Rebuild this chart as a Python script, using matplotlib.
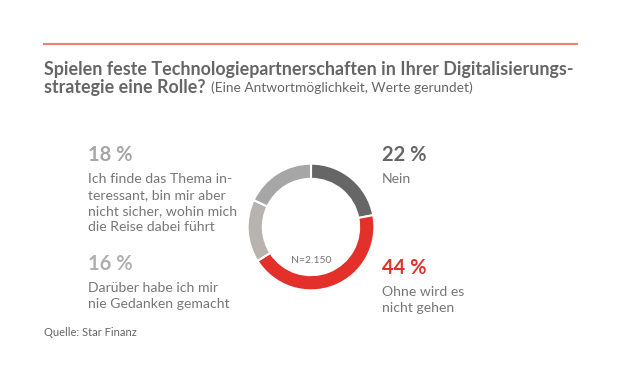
import matplotlib.pyplot as plt
from matplotlib.lines import Line2D

# Daten
kategorien = ["Nein", "Ohne wird es nicht gehen", "Darüber habe ich mir nie Gedanken gemacht",
              "Ich finde das Thema interessant, bin mir aber nicht sicher, wohin mich die Reise dabei führt"]
werte = [22, 44, 16, 18]
farben = ["#666666", "#e3302a", "#b8b3ae", "#a6a6a6"]

plt.rcParams['font.family'] = ['Lato', 'DejaVu Sans']

W, H = 620, 380
fig = plt.figure(figsize=(W / 100, H / 100), dpi=100)
fig.patch.set_facecolor("white")

def px(x, y):
    return x / W, 1 - y / H

# rote Linie oben
fig.add_artist(Line2D([44 / W, 577 / W], [1 - 44 / H, 1 - 44 / H], color="#f08070", lw=1.5))

# Titel
grau = "#666666"
fig.text(*px(44, 69), "Spielen feste Technologiepartnerschaften in Ihrer Digitalisierungs-",
         fontsize=12.9, fontweight="bold", color=grau, va="center")
t = fig.text(*px(44, 88), "strategie eine Rolle?", fontsize=12.9, fontweight="bold", color=grau, va="center")
r = fig.canvas.get_renderer()
x_end = t.get_window_extent(r).x1
fig.text(x_end / W + 5 / W, 1 - 88 / H, "(Eine Antwortmöglichkeit, Werte gerundet)",
         fontsize=9.9, color=grau, va="center")

# Donut
ax = fig.add_axes([247 / W, 1 - 291 / H, 128 / W, 128 / H])
ax.pie(werte, colors=farben, startangle=90, counterclock=False,
       wedgeprops=dict(width=0.24, edgecolor="white", linewidth=1.5))
ax.set_xlim(-1.01, 1.01)
ax.set_ylim(-1.01, 1.01)
ax.set_aspect("equal")
ax.text(0, -0.53, "N=2.150", ha="center", va="center", fontsize=7.5, color="#777777")

# Beschriftungen
def label(x, y, pct, text, farbe_pct, farbe_txt="#777777"):
    fig.text(*px(x, y), f"{pct} %", fontsize=14.5, fontweight="bold", color=farbe_pct, va="center")
    for i, zeile in enumerate(text):
        fig.text(*px(x, y + 24 + i * 16), zeile, fontsize=10.1, color=farbe_txt, va="center")

label(88, 155, werte[3], ["Ich finde das Thema in-", "teressant, bin mir aber",
                           "nicht sicher, wohin mich", "die Reise dabei führt"], "#a6a6a6")
label(88, 264, werte[2], ["Darüber habe ich mir", "nie Gedanken gemacht"], "#b0b0b0")
label(382, 155, werte[0], ["Nein"], "#666666")
label(382, 268, werte[1], ["Ohne wird es", "nicht gehen"], "#e3302a")

fig.text(*px(44, 333), "Quelle: Star Finanz", fontsize=8, color="#666666", va="center")

plt.savefig("out.png", dpi=100, facecolor="white")
